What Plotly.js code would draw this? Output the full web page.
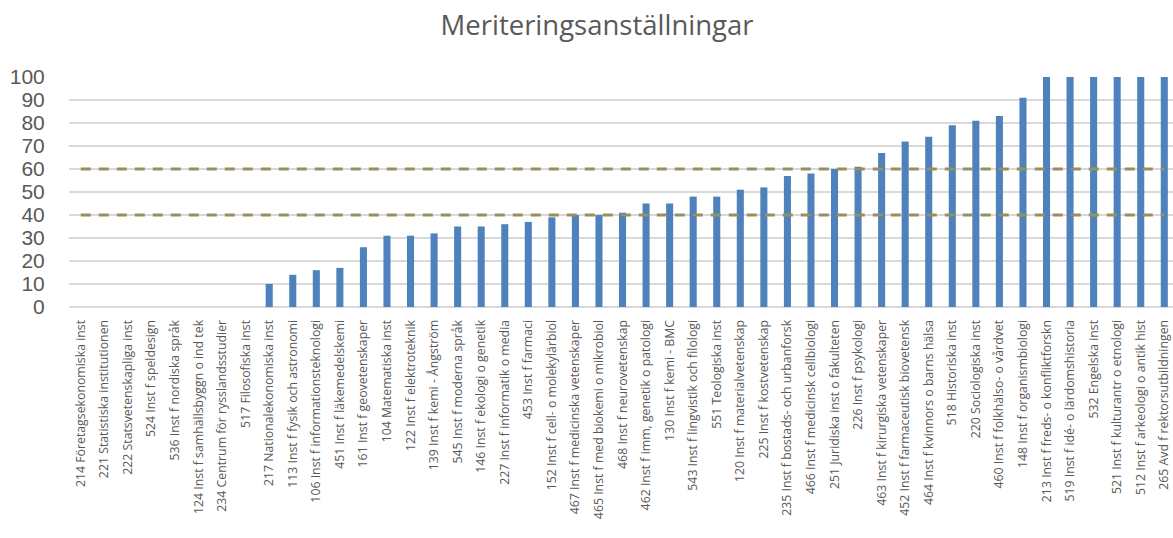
<!DOCTYPE html>
<html>
<head>
<meta charset="utf-8">
<script src="https://cdn.plot.ly/plotly-3.0.1.min.js"></script>
<style>
html,body{margin:0;padding:0;background:#fff;}
#chart{width:1173px;height:538px;}
</style>
</head>
<body>
<div id="chart"></div>
<script>
const categories = [
  "214 Företagsekonomiska inst",
  "221 Statistiska institutionen",
  "222 Statsvetenskapliga inst",
  "524 Inst f speldesign",
  "536 Inst f nordiska språk",
  "124 Inst f samhällsbyggn o ind tek",
  "234 Centrum för rysslandsstudier",
  "517 Filosofiska inst",
  "217 Nationalekonomiska inst",
  "113 Inst f fysik och astronomi",
  "106 Inst f informationsteknologi",
  "451 Inst f läkemedelskemi",
  "161 Inst f geovetenskaper",
  "104 Matematiska inst",
  "122 Inst f elektroteknik",
  "139 Inst f kemi - Ångström",
  "545 Inst f moderna språk",
  "146 Inst f ekologi o genetik",
  "227 Inst f informatik o media",
  "453 Inst f farmaci",
  "152 Inst f cell- o molekylärbiol",
  "467 Inst f medicinska vetenskaper",
  "465 Inst f med biokemi o mikrobiol",
  "468 Inst f neurovetenskap",
  "462 Inst f imm, genetik o patologi",
  "130 Inst f kemi - BMC",
  "543 Inst f lingvistik och filologi",
  "551 Teologiska inst",
  "120 Inst f materialvetenskap",
  "225 Inst f kostvetenskap",
  "235 Inst f bostads- och urbanforsk",
  "466 Inst f medicinsk cellbiologi",
  "251 Juridiska inst o fakulteten",
  "226 Inst f psykologi",
  "463 Inst f kirurgiska vetenskaper",
  "452 Inst f farmaceutisk biovetensk",
  "464 Inst f kvinnors o barns hälsa",
  "518 Historiska inst",
  "220 Sociologiska inst",
  "460 Inst f folkhälso- o vårdvet",
  "148 Inst f organismbiologi",
  "213 Inst f freds- o konfliktforskn",
  "519 Inst f idé- o lärdomshistoria",
  "532 Engelska inst",
  "521 Inst f kulturantr o etnologi",
  "512 Inst f arkeologi o antik hist",
  "265 Avd f rektorsutbildningen"
];
const values = [
  0, 0, 0, 0, 0, 0, 0, 0,
  10, 14, 16, 17, 26, 31, 31, 32, 35, 35, 36, 37, 39,
  40, 40, 41, 45, 45, 48, 48, 51, 52, 57, 58, 60, 61,
  67, 72, 74, 79, 81, 83, 91,
  100, 100, 100, 100, 100, 100
];
const lowerLimit = 40;
const upperLimit = 60;
const yTicks = [0, 10, 20, 30, 40, 50, 60, 70, 80, 90, 100];
const chartTitle = "Meriteringsanställningar";

const textColor = "#595959";
const limitStyle = {color: "#988f5a", width: 3, dash: "10px,8px"};

const traces = [
  {
    type: "bar",
    x: categories,
    y: values,
    marker: {color: "#4f81bd", line: {width: 0}},
    hoverinfo: "skip"
  },
  {
    type: "scatter",
    mode: "lines",
    x: categories,
    y: categories.map(() => lowerLimit),
    line: limitStyle,
    hoverinfo: "skip"
  },
  {
    type: "scatter",
    mode: "lines",
    x: categories,
    y: categories.map(() => upperLimit),
    line: limitStyle,
    hoverinfo: "skip"
  }
];

const layout = {
  width: 1173,
  height: 538,
  margin: {l: 69, r: 0, t: 77, b: 231, pad: 0},
  paper_bgcolor: "#ffffff",
  plot_bgcolor: "#ffffff",
  showlegend: false,
  bargap: 0.7,
  title: {
    text: chartTitle,
    font: {family: "Open Sans", size: 27.5, color: textColor},
    x: 0.509, xref: "container", xanchor: "center",
    y: 0.952, yref: "container", yanchor: "middle"
  },
  xaxis: {
    type: "category",
    range: [-0.5, 46.37],
    tickangle: -90,
    tickfont: {family: "Open Sans", size: 12.3, color: textColor},
    showgrid: false,
    zeroline: false,
    showline: false,
    ticks: "outside",
    ticklen: 7,
    tickcolor: "rgba(0,0,0,0)",
    automargin: false
  },
  yaxis: {
    range: [0, 100],
    tickvals: yTicks,
    ticktext: yTicks.map(String),
    tickfont: {family: "Liberation Sans", size: 21, color: textColor},
    showgrid: true,
    gridcolor: "#d9d9d9",
    gridwidth: 2,
    zeroline: true,
    zerolinecolor: "#d9d9d9",
    zerolinewidth: 2,
    showline: false,
    ticks: "outside",
    ticklen: 19,
    tickcolor: "rgba(0,0,0,0)",
    automargin: false
  }
};

Plotly.newPlot("chart", traces, layout, {displayModeBar: false, staticPlot: true});
</script>
</body>
</html>
